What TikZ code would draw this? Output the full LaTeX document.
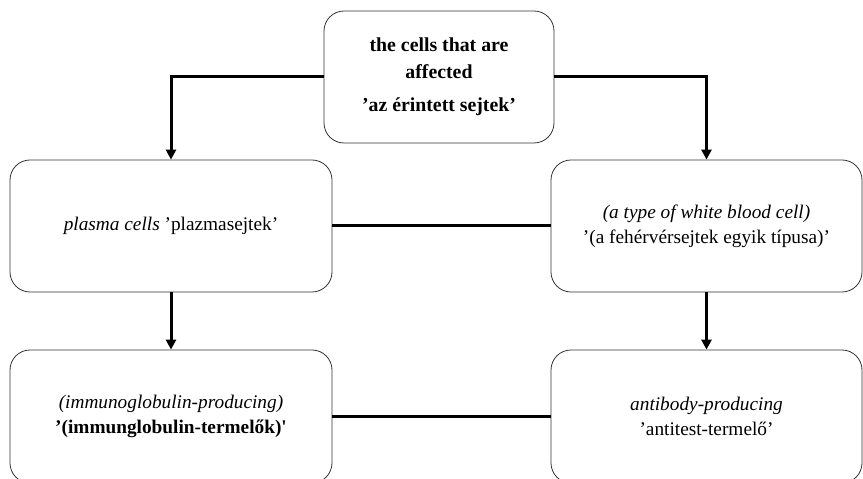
\documentclass[tikz,border=0pt]{standalone}
\usepackage{fontspec}
\setmainfont{Liberation Serif}
\usetikzlibrary{arrows.meta,positioning}

\tikzset{
  cellbox/.style={draw=black!80,line width=0.8pt,rounded corners=20pt,align=center,
    inner sep=0pt,font=\fontsize{19.3}{25}\selectfont},
  link/.style={line width=3pt},
}

\begin{document}
\begin{tikzpicture}[x=1pt,y=1pt,>={Triangle[length=10pt,width=10pt]}]
\useasboundingbox (0,0) rectangle (863,479);
% top box
\node[cellbox,minimum width=230pt,minimum height=132pt,font=\fontsize{19.8}{27}\selectfont] (cells) at (439,402)
  {\bfseries the cells that are\\ \bfseries affected\\[6pt] \bfseries 'az érintett sejtek'};
% middle row
\node[cellbox,minimum width=322pt,minimum height=132pt] (plasma) at (171,253)
  {\textit{plasma cells} 'plazmasejtek'};
\node[cellbox,minimum width=311pt,minimum height=132pt] (wbc) at (706.5,253)
  {\textit{(a type of white blood cell)}\\ '(a fehérvérsejtek egyik típusa)'};
% bottom row
\node[cellbox,minimum width=322pt,minimum height=133pt] (immuno) at (171,62.5)
  {\textit{(immunoglobulin-producing)}\\ \bfseries '(immunglobulin-termelők){\addfontfeature{Ligatures=TeXOff}'}};
\node[cellbox,minimum width=311pt,minimum height=133pt] (antibody) at (706.5,62.5)
  {\textit{antibody-producing}\\ 'antitest-termelő'};
% connectors
\draw[link,->] (cells.west) -| (plasma.north);
\draw[link,->] (cells.east) -| (wbc.north);
\draw[link,->] (plasma.south) -- (immuno.north);
\draw[link,->] (wbc.south) -- (antibody.north);
\draw[link] (plasma.east) -- (wbc.west);
\draw[link] (immuno.east) -- (antibody.west);
\end{tikzpicture}
\end{document}
